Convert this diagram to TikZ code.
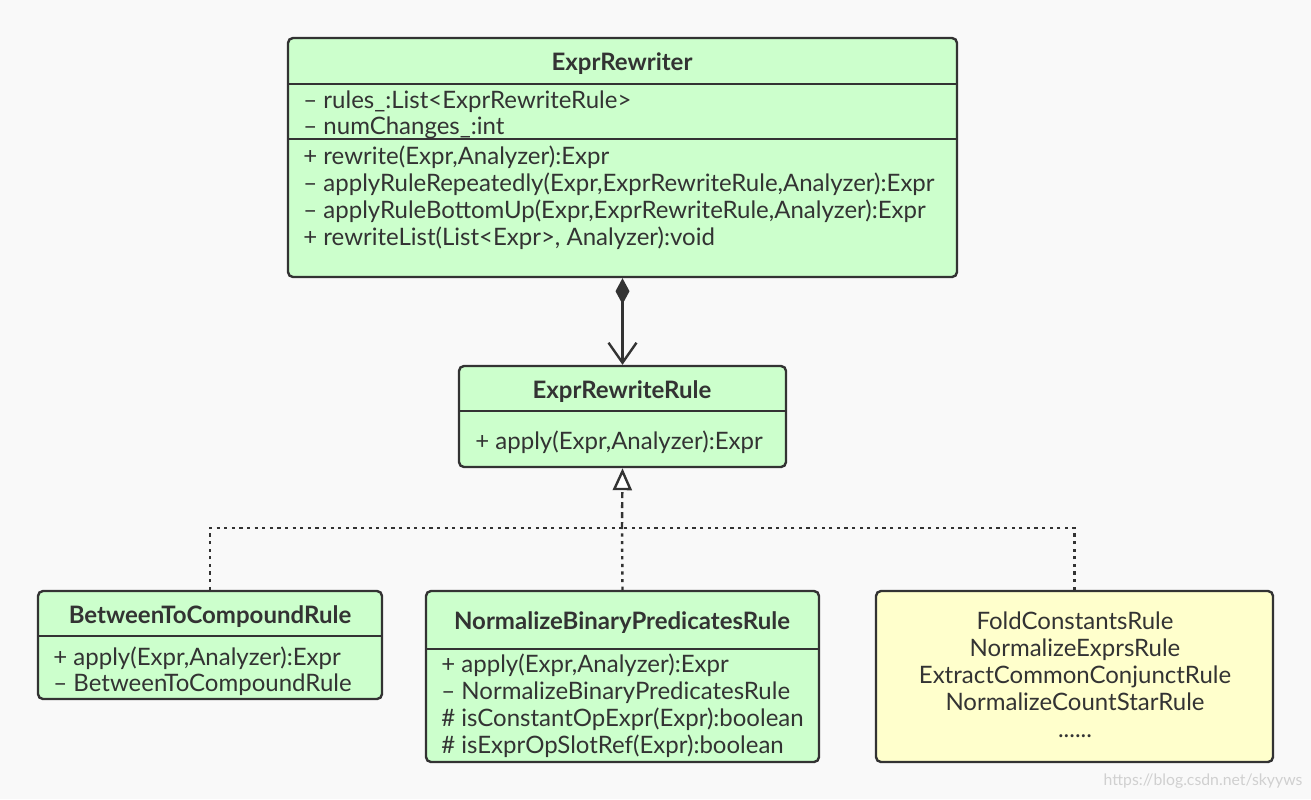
\documentclass[tikz,border=0pt]{standalone}
\usepackage{fontspec}
\setmainfont{Lato}
\usetikzlibrary{arrows.meta,fit}
\definecolor{bg}{HTML}{F9F9F9}
\definecolor{umlgreen}{HTML}{CCFFCC}
\definecolor{umlyellow}{HTML}{FFFFCC}
\definecolor{ink}{HTML}{333333}
\definecolor{wm}{HTML}{D0D0D0}
\tikzset{
  box/.style={draw=ink, line width=1.2pt, rounded corners=2.5pt, inner sep=0pt},
  gbox/.style={box, fill=umlgreen},
  ybox/.style={box, fill=umlyellow},
  divider/.style={draw=ink, line width=1.2pt},
  txt/.style={text=ink, inner sep=0pt, text height=9pt, text depth=2.5pt, yshift=-1.5pt},
  title/.style={txt, font=\fontsize{12}{14}\selectfont\bfseries},
  member/.style={txt, font=\fontsize{12}{14}\selectfont, anchor=west},
  yitem/.style={txt, font=\fontsize{12}{14}\selectfont},
  comp/.style={draw=ink, line width=1.2pt, {Diamond[length=13pt,width=7pt]}-{Straight Barb[length=10pt,width=14pt,line width=1.2pt]}},
  real/.style={draw=ink, line width=1.2pt, dash pattern=on 1.6pt off 2.2pt},
  realtip/.style={draw=ink, line width=1.2pt, dash pattern=on 3pt off 2pt, -{Triangle[length=11pt,width=9.5pt,fill=white,line width=1.2pt]}},
}
\begin{document}
\begin{tikzpicture}[x=0.5pt,y=-0.5pt]
\fill[bg] (0,0) rectangle (1311,799);
\useasboundingbox (0,0) rectangle (1311,799);

% ExprRewriter
\node[gbox, fit={(288,38) (957,277)}] (rw) {};
\draw[divider] (288,84) -- (957,84);
\draw[divider] (288,139) -- (957,139);
\node[title] (rwt) at (622,61) {ExprRewriter};
\node[member] (rw1) at (303,99) {– rules\_:List<ExprRewriteRule>};
\node[member] (rw2) at (303,125) {– numChanges\_:int};
\node[member] (rw3) at (303,155) {+ rewrite(Expr,Analyzer):Expr};
\node[member] (rw4) at (303,182) {– applyRuleRepeatedly(Expr,ExprRewriteRule,Analyzer):Expr};
\node[member] (rw5) at (303,209) {– applyRuleBottomUp(Expr,ExprRewriteRule,Analyzer):Expr};
\node[member] (rw6) at (303,236) {+ rewriteList(List<Expr>, Analyzer):void};

% ExprRewriteRule
\node[gbox, fit={(459,366) (786,467)}] (rr) {};
\draw[divider] (459,411) -- (786,411);
\node[title] (rrt) at (622,389) {ExprRewriteRule};
\node[member] (rr1) at (475,440) {+ apply(Expr,Analyzer):Expr};

% BetweenToCompoundRule
\node[gbox, fit={(38,591) (382,699)}] (bt) {};
\draw[divider] (38,636) -- (382,636);
\node[title] (btt) at (210,614) {BetweenToCompoundRule};
\node[member] (bt1) at (53,656) {+ apply(Expr,Analyzer):Expr};
\node[member] (bt2) at (53,682) {– BetweenToCompoundRule};

% NormalizeBinaryPredicatesRule
\node[gbox, fit={(426,591) (819,762)}] (nb) {};
\draw[divider] (426,649) -- (819,649);
\node[title] (nbt) at (622,620) {NormalizeBinaryPredicatesRule};
\node[member] (nb1) at (441,663) {+ apply(Expr,Analyzer):Expr};
\node[member] (nb2) at (441,690) {– NormalizeBinaryPredicatesRule};
\node[member] (nb3) at (441,717) {\# isConstantOpExpr(Expr):boolean};
\node[member] (nb4) at (441,744) {\# isExprOpSlotRef(Expr):boolean};

% Other rules
\node[ybox, fit={(876,591) (1273,762)}] (ot) {};
\node[yitem] (ot1) at (1075,620) {FoldConstantsRule};
\node[yitem] (ot2) at (1075,647) {NormalizeExprsRule};
\node[yitem] (ot3) at (1075,674) {ExtractCommonConjunctRule};
\node[yitem] (ot4) at (1075,701) {NormalizeCountStarRule};
\node[yitem] (ot5) at (1075,728) {......};

% watermark
\node[font=\fontsize{7.9}{10}\selectfont, text=wm, inner sep=0pt] (wmk) at (1203,781) {https://blog.csdn.net/skyyws};

% connectors
\draw[comp] (rw.south) -- (rr.north);
\coordinate (j) at (622,528);
\draw[real] (bt.north) |- (j);
\draw[real] (ot.north) |- (j);
\draw[real] (nb.north) -- (j);
\draw[realtip] (j) -- (rr.south);
\end{tikzpicture}
\end{document}
